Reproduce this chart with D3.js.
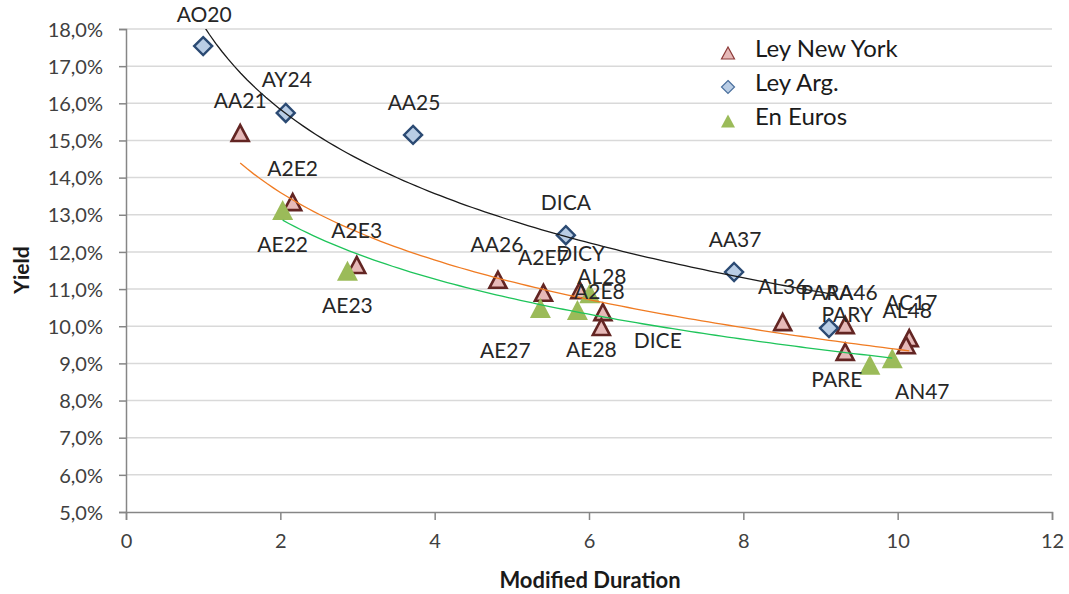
<!DOCTYPE html>
<html>
<head>
<meta charset="utf-8">
<script src="https://cdn.jsdelivr.net/npm/d3@7/dist/d3.min.js"></script>
<style>
  html, body { margin: 0; padding: 0; background: #ffffff; }
  svg { display: block; font-family: Lato, "Open Sans", sans-serif; }
</style>
</head>
<body>
<svg id="chart" width="1069" height="594"></svg>
<script>
// ---- Data ----
const nyNames    = ["AA21","A2E2","A2E3","AA26","A2E7","DICY","AL28","A2E8","AL36","AA46","PARY","AC17","AL48"];
const nyDuration = [1.48, 2.16, 2.99, 4.82, 5.41, 5.88, 6.18, 6.16, 8.51, 9.32, 9.32, 10.15, 10.11];
const nyYield    = [15.20, 13.34, 11.65, 11.25, 10.90, 10.97, 10.38, 9.98, 10.11, 10.03, 9.31, 9.68, 9.49];

const argNames    = ["AO20","AY24","AA25","DICA","AA37","PARA"];
const argDuration = [1.00, 2.07, 3.72, 5.70, 7.88, 9.11];
const argYield    = [17.54, 15.74, 15.15, 12.45, 11.46, 9.95];

const eurNames    = ["AE22","AE23","AE27","AE28","DICE","PARE","AN47"];
const eurDuration = [2.03, 2.87, 5.37, 5.85, 6.01, 9.64, 9.93];
const eurYield    = [13.13, 11.49, 10.49, 10.44, 10.89, 8.96, 9.14];

const seriesNames = ["Ley New York", "Ley Arg.", "En Euros"];
const xTicks = [0, 2, 4, 6, 8, 10, 12];
const yTicks = [5, 6, 7, 8, 9, 10, 11, 12, 13, 14, 15, 16, 17, 18];
const xTitle = "Modified Duration";
const yTitle = "Yield";

// ---- Label placement offsets (pixels, relative to the marker) ----
const nyLabelOffset  = [[0,-33],[0,-34],[0,-34],[-1,-35],[0,-35],[1,-37],[-1,-36],[-2,-35],[0,-36],[6,-33],[2,-37],[2,-36],[1,-35]];
const argLabelOffset = [[1,-32],[1,-33],[1,-32],[0,-33],[1,-32],[-2,-36]];
const eurLabelOffset = [[0,35],[0,35],[-35,42],[14,40],[68,47],[-33,15],[30,33]];

// ---- Layout ----
const W = 1069, H = 594;
const margin = { left: 126, right: 17, top: 29, bottom: 82 };
const svg = d3.select("#chart");

const x = d3.scaleLinear().domain([0, 12]).range([margin.left, W - margin.right]);
const y = d3.scaleLinear().domain([5, 18]).range([H - margin.bottom, margin.top]);

const fmtPct = v => d3.format(".1f")(v).replace(".", ",") + "%";

// gridlines
svg.append("g")
  .selectAll("line")
  .data(yTicks.filter(t => t > 5))
  .join("line")
  .attr("x1", x(0)).attr("x2", x(12))
  .attr("y1", d => y(d)).attr("y2", d => y(d))
  .attr("stroke", "#d9d9d9").attr("stroke-width", 1.5);

// y axis
const yAxis = svg.append("g")
  .attr("transform", `translate(${x(0)},0)`)
  .call(d3.axisLeft(y).tickValues(yTicks).tickFormat(fmtPct).tickSize(7).tickPadding(16));
yAxis.select(".domain").attr("stroke", "#868686").attr("stroke-width", 1.5);
yAxis.selectAll(".tick line").attr("stroke", "#868686").attr("stroke-width", 1.5);
yAxis.selectAll(".tick text")
  .attr("font-family", "Lato, sans-serif").attr("font-size", 20).attr("fill", "#404040")
  .attr("dy", "0.36em");

// x axis
const xAxis = svg.append("g")
  .attr("transform", `translate(0,${y(5)})`)
  .call(d3.axisBottom(x).tickValues(xTicks).tickFormat(d3.format("d")).tickSize(8).tickPadding(14));
xAxis.select(".domain").attr("stroke", "#868686").attr("stroke-width", 1.5);
xAxis.selectAll(".tick line").attr("stroke", "#868686").attr("stroke-width", 1.5);
xAxis.selectAll(".tick text")
  .attr("font-family", "Lato, sans-serif").attr("font-size", 20).attr("fill", "#404040");

// axis titles
svg.append("text")
  .attr("x", (x(0) + x(12)) / 2 + 1).attr("y", 588)
  .attr("text-anchor", "middle")
  .attr("font-weight", "bold").attr("font-size", 22).attr("fill", "#1a1a1a")
  .text(xTitle);
svg.append("text")
  .attr("transform", `translate(29,270) rotate(-90)`)
  .attr("text-anchor", "middle")
  .attr("font-weight", "bold").attr("font-size", 21).attr("fill", "#1a1a1a")
  .text(yTitle);

// ---- series ----
function toPoints(names, xs, ys, offs) {
  return names.map((n, i) => ({ name: n, x: xs[i], y: ys[i], off: offs[i] }));
}
const nyPts  = toPoints(nyNames, nyDuration, nyYield, nyLabelOffset);
const argPts = toPoints(argNames, argDuration, argYield, argLabelOffset);
const eurPts = toPoints(eurNames, eurDuration, eurYield, eurLabelOffset);

const triPath = (w, h) => `M0,${-h/2}L${w/2},${h/2}L${-w/2},${h/2}Z`;
const diaPath = (w) => `M0,${-w/2}L${w/2},0L0,${w/2}L${-w/2},0Z`;

const styles = {
  ny:  { path: triPath(17, 16), fill: "#e6b9b8", stroke: "#632523", sw: 2.6 },
  arg: { path: diaPath(18),     fill: "#b9cde5", stroke: "#2b4a73", sw: 2.4 },
  eur: { path: triPath(21, 20), fill: "#9bbb59", stroke: "none",    sw: 0 }
};

function drawMarkers(pts, st) {
  svg.append("g").selectAll("path")
    .data(pts).join("path")
    .attr("transform", d => `translate(${x(d.x)},${y(d.y)})`)
    .attr("d", st.path)
    .attr("fill", st.fill)
    .attr("stroke", st.stroke)
    .attr("stroke-width", st.sw)
    .attr("stroke-linejoin", "miter");
}
drawMarkers(nyPts, styles.ny);
drawMarkers(argPts, styles.arg);
drawMarkers(eurPts, styles.eur);

// ---- logarithmic trendlines (least squares on ln x) ----
svg.append("clipPath").attr("id", "plotclip")
  .append("rect")
  .attr("x", x(0)).attr("y", y(18))
  .attr("width", x(12) - x(0)).attr("height", y(5) - y(18));

function logFit(pts) {
  const lx = pts.map(p => Math.log(p.x));
  const mx = d3.mean(lx), my = d3.mean(pts, p => p.y);
  let sxy = 0, sxx = 0;
  pts.forEach((p, i) => { sxy += (lx[i] - mx) * (p.y - my); sxx += (lx[i] - mx) ** 2; });
  const a = sxy / sxx, b = my - a * mx;
  const [x0, x1] = d3.extent(pts, p => p.x);
  return d3.range(0, 101).map(k => {
    const xv = x0 + (x1 - x0) * k / 100;
    return [xv, a * Math.log(xv) + b];
  });
}
const line = d3.line().x(d => x(d[0])).y(d => y(d[1]));
const trendG = svg.append("g").attr("clip-path", "url(#plotclip)");
[[argPts, "#1a1a1a"], [nyPts, "#f07b22"], [eurPts, "#1ec45a"]].forEach(([pts, col]) => {
  trendG.append("path")
    .attr("d", line(logFit(pts)))
    .attr("fill", "none")
    .attr("stroke", col)
    .attr("stroke-width", 1.3);
});

// ---- data labels ----
const labelG = svg.append("g");
[nyPts, argPts, eurPts].forEach(pts => {
  labelG.selectAll(null)
    .data(pts).join("text")
    .attr("x", d => x(d.x) + d.off[0])
    .attr("y", d => y(d.y) + d.off[1] + 7.5)
    .attr("text-anchor", "middle")
    .attr("font-size", 21)
    .attr("fill", "#262626")
    .text(d => d.name);
});

// ---- legend ----
const legend = svg.append("g").attr("transform", "translate(728,53)");
const legMarkers = [
  { path: triPath(13, 12), fill: "#e6b9b8", stroke: "#8c3a38", sw: 1.2 },
  { path: diaPath(13),     fill: "#b9cde5", stroke: "#4a6f9c", sw: 1.2 },
  { path: triPath(14, 13), fill: "#9bbb59", stroke: "none",    sw: 0 }
];
seriesNames.forEach((name, i) => {
  const row = legend.append("g").attr("transform", `translate(0,${i * 34})`);
  row.append("path")
    .attr("d", legMarkers[i].path)
    .attr("fill", legMarkers[i].fill)
    .attr("stroke", legMarkers[i].stroke)
    .attr("stroke-width", legMarkers[i].sw);
  row.append("text")
    .attr("x", 27).attr("y", 4)
    .attr("font-size", 24)
    .attr("fill", "#1a1a1a")
    .text(name);
});
</script>
</body>
</html>
